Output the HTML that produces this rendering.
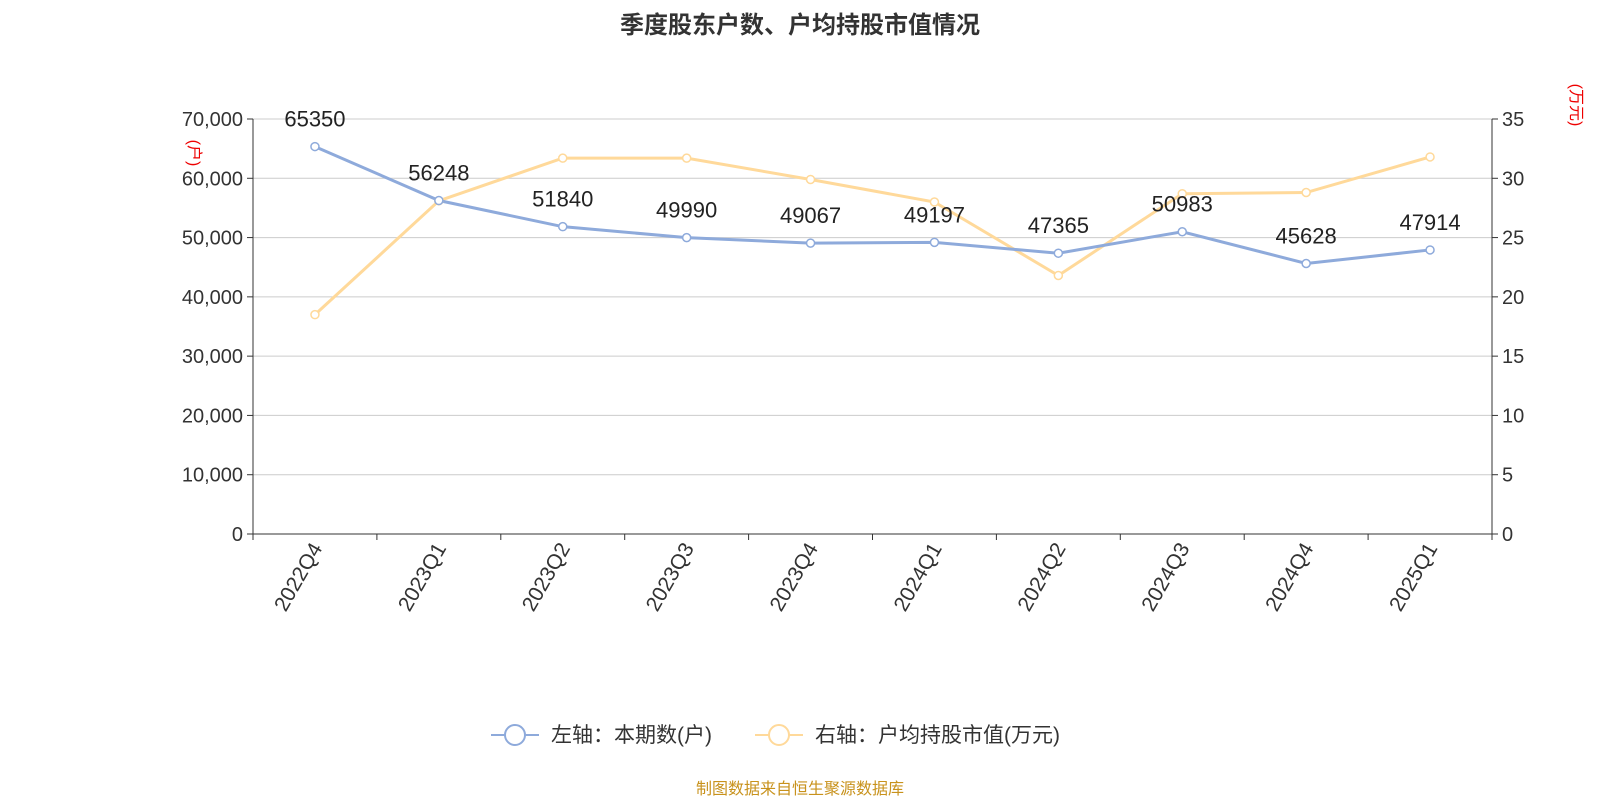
<!DOCTYPE html>
<html><head><meta charset="utf-8"><style>
body{margin:0;background:#fff;}
svg text{font-family:"Liberation Sans","Noto Sans CJK SC",sans-serif;}
</style></head><body>
<svg id="chart" width="1600" height="800" xmlns="http://www.w3.org/2000/svg">
<text x="800" y="33" text-anchor="middle" font-size="24" font-weight="bold" fill="#333">季度股东户数、户均持股市值情况</text>
<g id="grid"></g><g id="axes"></g><g id="series"></g>
<text transform="translate(189,153) rotate(90)" text-anchor="middle" font-size="16" fill="#e00">(户)</text>
<text transform="translate(1571,105) rotate(90)" text-anchor="middle" font-size="16" fill="#e00">(万元)</text>
<g>
<line x1="491" y1="735" x2="539" y2="735" stroke="#8eaadb" stroke-width="2"/>
<circle cx="515" cy="735" r="10" fill="#fff" stroke="#8eaadb" stroke-width="2"/>
<text x="551" y="742" font-size="21" fill="#333">左轴：本期数(户)</text></g>
<g>
<line x1="755" y1="735" x2="803" y2="735" stroke="#ffd99a" stroke-width="2"/>
<circle cx="779" cy="735" r="10" fill="#fff" stroke="#ffd99a" stroke-width="2"/>
<text x="815" y="742" font-size="21" fill="#333">右轴：户均持股市值(万元)</text></g>
<text x="800" y="794" text-anchor="middle" font-size="16" fill="#c8921c">制图数据来自恒生聚源数据库</text>
</svg>
<script>
const categories=["2022Q4","2023Q1","2023Q2","2023Q3","2023Q4","2024Q1","2024Q2","2024Q3","2024Q4","2025Q1"];
const holders=[65350,56248,51840,49990,49067,49197,47365,50983,45628,47914];
const avgValue=[18.5,28.1,31.7,31.7,29.9,28.0,21.8,28.7,28.8,31.8];
const leftTicks=[0,10000,20000,30000,40000,50000,60000,70000];
const rightTicks=[0,5,10,15,20,25,30,35];
const X0=253,X1=1492,Y0=534,Y1=119;
const bw=(X1-X0)/categories.length;
const x=i=>X0+bw*(i+0.5);
const yL=v=>Y0-(v/70000)*(Y0-Y1);
const yR=v=>Y0-(v/35)*(Y0-Y1);
const NS="http://www.w3.org/2000/svg";
function mk(p,t,a){const e=document.createElementNS(NS,t);for(const k in a)e.setAttribute(k,a[k]);p.appendChild(e);return e;}
const grid=document.getElementById('grid'),axes=document.getElementById('axes'),ser=document.getElementById('series');
leftTicks.forEach((v,i)=>{
 const y=yL(v);
 if(v>0){const g=mk(grid,'line',{x1:X0,x2:X1,y1:y,y2:y,stroke:'#ccc','stroke-width':1});
 
 }
 mk(axes,'line',{x1:X0-6,x2:X0,y1:y,y2:y,stroke:'#333'});
 const t=mk(axes,'text',{x:X0-10,y:y+7,'text-anchor':'end','font-size':20,fill:'#333'});t.textContent=v.toLocaleString('en-US');
 
 
});
rightTicks.forEach(v=>{
 const y=yR(v);
 mk(axes,'line',{x1:X1,x2:X1+6,y1:y,y2:y,stroke:'#333'});
 const t=mk(axes,'text',{x:X1+10,y:y+7,'font-size':20,fill:'#333'});t.textContent=v;
 
 
});
mk(axes,'line',{x1:X0,x2:X0,y1:Y1,y2:Y0,stroke:'#333'});
mk(axes,'line',{x1:X1,x2:X1,y1:Y1,y2:Y0,stroke:'#333'});
mk(axes,'line',{x1:X0,x2:X1,y1:Y0,y2:Y0,stroke:'#333'});
for(let i=0;i<=categories.length;i++){mk(axes,'line',{x1:X0+bw*i,x2:X0+bw*i,y1:Y0,y2:Y0+6,stroke:'#333'});}
categories.forEach((c,i)=>{
 const t=mk(axes,'text',{transform:`translate(${x(i)+8},${Y0+14}) rotate(-60)`,'text-anchor':'end','font-size':21,fill:'#333'});t.textContent=c;
 
 
});
const pR=mk(ser,'polyline',{points:avgValue.map((v,i)=>x(i)+','+yR(v)).join(' '),fill:'none',stroke:'#ffd99a','stroke-width':3});


const pL=mk(ser,'polyline',{points:holders.map((v,i)=>x(i)+','+yL(v)).join(' '),fill:'none',stroke:'#8eaadb','stroke-width':3});


avgValue.forEach((v,i)=>{const c=mk(ser,'circle',{cx:x(i),cy:yR(v),r:4,fill:'#fff',stroke:'#ffd99a','stroke-width':1.5});
 
 });
holders.forEach((v,i)=>{const c=mk(ser,'circle',{cx:x(i),cy:yL(v),r:4,fill:'#fff',stroke:'#8eaadb','stroke-width':1.5});
 
 
 const t=mk(ser,'text',{x:x(i),y:yL(v)-20,'text-anchor':'middle','font-size':22,fill:'#222'});t.textContent=v;
 
 });
</script>
</body></html>
